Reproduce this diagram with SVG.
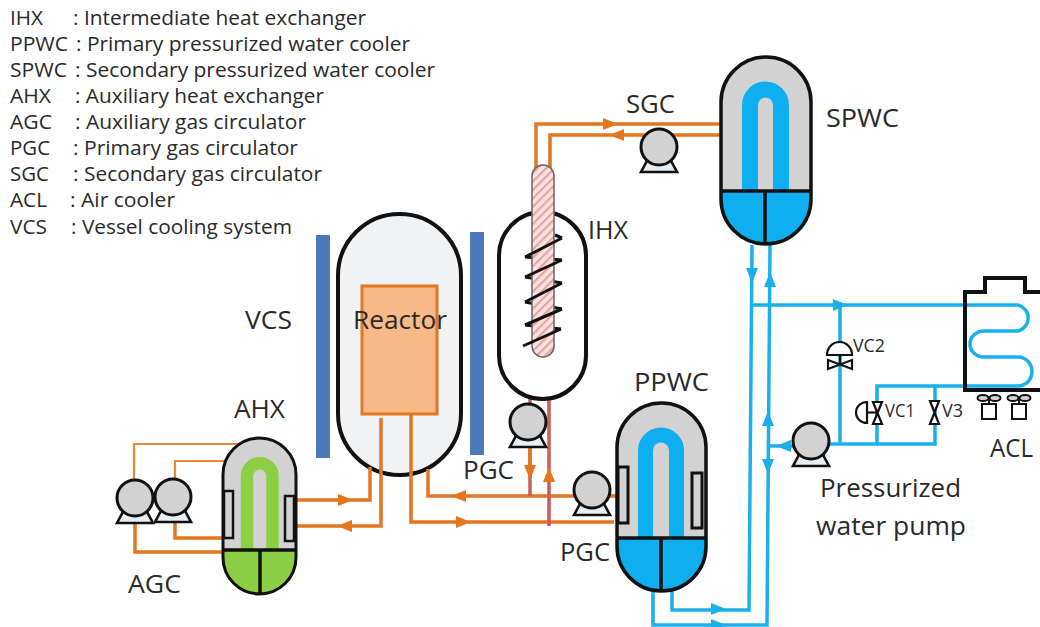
<svg xmlns="http://www.w3.org/2000/svg" width="1040" height="627" viewBox="0 0 1040 627">
<style>
text{font-family:"Open Sans","Noto Sans","Liberation Sans",sans-serif;fill:#2a2a2a}
.leg{font-size:20px}
.lab{font-size:26px}
.sm{font-size:18px}
.o{fill:none;stroke:#e4761f;stroke-width:3.5}
.ot{fill:none;stroke:#e8883a;stroke-width:2.2}
.b{fill:none;stroke:#19b0ec;stroke-width:3.5}
.r{fill:none;stroke:#cd5a5a;stroke-width:3.5}
.k{fill:none;stroke:#111;stroke-width:3.5}
.ah{fill:#e4761f}
.ab{fill:#19b0ec}
.vlv{fill:#fff;stroke:#111;stroke-width:2.2}
</style>
<defs>
<pattern id="hatch" width="6" height="6" patternUnits="userSpaceOnUse" patternTransform="rotate(-45)">
<rect width="6" height="6" fill="#fbe3e0"/><rect width="6" height="2.2" fill="#e9a3a0"/>
</pattern>
<g id="pump"><path d="M-11 12 L-18 25 H18 L11 12Z" fill="#e8eef2" stroke="#111" stroke-width="2.6"/><circle r="18" fill="#d2d2d2" stroke="#111" stroke-width="3"/></g>
<path id="tr" d="M-7 -6 L8 0 L-7 6Z"/>
<g id="fan"><ellipse cx="-6" cy="0" rx="5.5" ry="3" fill="#d2d2d2" stroke="#111" stroke-width="2"/><ellipse cx="6" cy="0" rx="5.5" ry="3" fill="#d2d2d2" stroke="#111" stroke-width="2"/><path d="M0 0V6" stroke="#111" stroke-width="2"/><rect x="-7" y="6" width="14" height="15" fill="#fff" stroke="#111" stroke-width="2"/></g>
</defs>
<g id="legend">
<text class="leg" x="10" y="25" textLength="33" lengthAdjust="spacingAndGlyphs">IHX</text><text class="leg" x="73" y="25" textLength="293" lengthAdjust="spacingAndGlyphs">: Intermediate heat exchanger</text>
<text class="leg" x="10" y="51" textLength="58" lengthAdjust="spacingAndGlyphs">PPWC</text><text class="leg" x="76" y="51" textLength="334" lengthAdjust="spacingAndGlyphs">: Primary pressurized water cooler</text>
<text class="leg" x="10" y="77" textLength="57" lengthAdjust="spacingAndGlyphs">SPWC</text><text class="leg" x="75" y="77" textLength="360" lengthAdjust="spacingAndGlyphs">: Secondary pressurized water cooler</text>
<text class="leg" x="10" y="103" textLength="41" lengthAdjust="spacingAndGlyphs">AHX</text><text class="leg" x="75" y="103" textLength="249" lengthAdjust="spacingAndGlyphs">: Auxiliary heat exchanger</text>
<text class="leg" x="10" y="129" textLength="42" lengthAdjust="spacingAndGlyphs">AGC</text><text class="leg" x="75" y="129" textLength="231" lengthAdjust="spacingAndGlyphs">: Auxiliary gas circulator</text>
<text class="leg" x="10" y="155" textLength="40" lengthAdjust="spacingAndGlyphs">PGC</text><text class="leg" x="73" y="155" textLength="225" lengthAdjust="spacingAndGlyphs">: Primary gas circulator</text>
<text class="leg" x="10" y="181" textLength="39" lengthAdjust="spacingAndGlyphs">SGC</text><text class="leg" x="73" y="181" textLength="249" lengthAdjust="spacingAndGlyphs">: Secondary gas circulator</text>
<text class="leg" x="10" y="207" textLength="37" lengthAdjust="spacingAndGlyphs">ACL</text><text class="leg" x="70" y="207" textLength="105" lengthAdjust="spacingAndGlyphs">: Air cooler</text>
<text class="leg" x="10" y="234" textLength="37" lengthAdjust="spacingAndGlyphs">VCS</text><text class="leg" x="71" y="234" textLength="221" lengthAdjust="spacingAndGlyphs">: Vessel cooling system</text>
</g>
<g id="VCS"><rect x="316" y="235" width="14" height="223" fill="#4a7ab8"/><rect x="470" y="232" width="14" height="223" fill="#4a7ab8"/><text class="lab" x="245" y="329" textLength="47" lengthAdjust="spacingAndGlyphs">VCS</text></g>
<g id="Reactor">
<rect x="338" y="214" width="123" height="261" rx="61.5" fill="#f1f2f4" stroke="#111" stroke-width="4"/>
<rect x="362" y="286" width="75" height="128" fill="#f8b988" stroke="#e4761f" stroke-width="3"/>
<text class="lab" x="353" y="329" textLength="94" lengthAdjust="spacingAndGlyphs">Reactor</text>
</g>
<g id="connectors">
<path class="o" d="M536 170V124H720"/><path class="o" d="M550 170V135H720"/>
<use href="#tr" class="ah" x="610" y="124"/><use href="#tr" class="ah" transform="translate(617 135) rotate(180)"/>
<path class="ot" d="M134 482V444H240"/><path class="ot" d="M175 480V461H228"/>
<path class="o" d="M175 520V538H224"/><path class="o" d="M135 520V552H224"/>
<path class="o" d="M296 500H370V467"/><path class="o" d="M296 526H381V418"/>
<use href="#tr" class="ah" x="345" y="500"/><use href="#tr" class="ah" transform="translate(345 526) rotate(180)"/>
<path class="o" d="M428 469V496H617"/><path class="o" d="M411 414V522H614"/>
<use href="#tr" class="ah" transform="translate(459 496) rotate(180)"/><use href="#tr" class="ah" x="463" y="522"/>
<path class="r" d="M530 396V496"/><path class="r" d="M549 396V526"/>
<path class="o" d="M530 445V478"/>
<use href="#tr" class="ah" transform="translate(530 472) rotate(90)"/><use href="#tr" class="ah" transform="translate(549 475) rotate(-90)"/>
<path class="b" d="M653 590V625H767L770 245"/><path class="b" d="M672 590V610H749L752 245"/>
<use href="#tr" class="ab" x="718" y="609"/><use href="#tr" class="ab" x="718" y="625"/>
<use href="#tr" class="ab" transform="translate(768 419) rotate(-90)"/><use href="#tr" class="ab" transform="translate(768 466) rotate(90)"/>
<use href="#tr" class="ab" transform="translate(752 275) rotate(90)"/><use href="#tr" class="ab" transform="translate(770 280) rotate(-90)"/>
<path class="b" d="M751 305H1018A14 13.5 0 0 1 1018 331H984A14 13 0 0 0 984 357H1018A14 14.5 0 0 1 1018 386H877V444"/>
<path class="b" d="M768 446H795"/><path class="b" d="M825 444H935V386"/><path class="b" d="M840 305V444"/>
<use href="#tr" class="ab" x="840" y="305"/><use href="#tr" class="ab" transform="translate(784 446) rotate(180)"/>
</g>
<g id="IHX">
<rect x="499" y="212" width="87" height="187" rx="43.5" fill="#fff" stroke="#111" stroke-width="4"/>
<path d="M562 238L555 235M525 257L562 260M525 277L562 283M525 302L562 309M525 325L561 329" fill="none" stroke="#111" stroke-width="3"/>
<rect x="532" y="165" width="22" height="192" rx="11" fill="url(#hatch)" stroke="#666" stroke-width="1.5"/>
<path d="M525 257L562 238M525 277L562 260M525 302L562 283M525 325L562 309M523 346L561 329" fill="none" stroke="#111" stroke-width="3"/>
<text class="lab" x="588" y="239" textLength="40" lengthAdjust="spacingAndGlyphs">IHX</text>
</g>
<g id="SPWC">
<rect x="721" y="57" width="90" height="187" rx="45" fill="#d2d2d2"/>
<path d="M721 191H811C811 225 790 244 766 244C742 244 721 225 721 191Z" fill="#0eaeef"/>
<path d="M750 191V105A15.5 15.5 0 0 1 781 105V191" fill="none" stroke="#0eaeef" stroke-width="16"/>
<rect x="721" y="57" width="90" height="187" rx="45" fill="none" stroke="#111" stroke-width="3.5"/>
<path class="k" d="M721 191H811M765 191V244"/>
<text class="lab" x="826" y="127" textLength="73" lengthAdjust="spacingAndGlyphs">SPWC</text>
</g>
<g id="SGC"><use href="#pump" x="659" y="147"/><text class="lab" x="626" y="113" textLength="49" lengthAdjust="spacingAndGlyphs">SGC</text></g>
<g id="PPWC">
<rect x="617" y="403" width="89" height="188" rx="44.5" fill="#d2d2d2"/>
<path d="M617 538H706C706 572 685 591 661 591C637 591 617 572 617 538Z" fill="#0eaeef"/>
<path d="M645.5 538V450.5A15.5 15.5 0 0 1 676.5 450.5V538" fill="none" stroke="#0eaeef" stroke-width="15"/>
<rect x="617" y="403" width="89" height="188" rx="44.5" fill="none" stroke="#111" stroke-width="3.5"/>
<path class="k" d="M617 538H706M661 538V591"/>
<rect x="618" y="467" width="10" height="56" fill="#d2d2d2" stroke="#111" stroke-width="3"/>
<rect x="692" y="473" width="10" height="55" fill="#d2d2d2" stroke="#111" stroke-width="3"/>
<text class="lab" x="634" y="391" textLength="75" lengthAdjust="spacingAndGlyphs">PPWC</text>
</g>
<g id="AHX">
<rect x="223" y="438" width="73" height="156" rx="36.5" fill="#d2d2d2"/>
<path d="M223 550H296C296 578 280 594 260 594C240 594 223 578 223 550Z" fill="#8ccf45"/>
<path d="M247 550V476A12.75 12.75 0 0 1 272.5 476V550" fill="none" stroke="#8ccf45" stroke-width="12.5"/>
<rect x="223" y="438" width="73" height="156" rx="36.5" fill="none" stroke="#111" stroke-width="3"/>
<path class="k" d="M223 550H296M260 550V594" stroke-width="3"/>
<rect x="224" y="491" width="9" height="47" fill="#d2d2d2" stroke="#111" stroke-width="2.5"/>
<rect x="285" y="496" width="9" height="45" fill="#d2d2d2" stroke="#111" stroke-width="2.5"/>
<text class="lab" x="234" y="418" textLength="51" lengthAdjust="spacingAndGlyphs">AHX</text>
</g>
<g id="AGC"><use href="#pump" x="135" y="498"/><use href="#pump" x="173" y="497"/><text class="lab" x="128" y="593" textLength="53" lengthAdjust="spacingAndGlyphs">AGC</text></g>
<g id="PGC1"><use href="#pump" x="528" y="422"/><text class="lab" x="463" y="479" textLength="51" lengthAdjust="spacingAndGlyphs">PGC</text></g>
<g id="PGC2"><use href="#pump" x="592" y="490"/><text class="lab" x="560" y="561" textLength="50" lengthAdjust="spacingAndGlyphs">PGC</text></g>
<g id="Pressurized-water-pump"><use href="#pump" x="811" y="441"/><text class="lab" x="820" y="497" textLength="141" lengthAdjust="spacingAndGlyphs">Pressurized</text><text class="lab" x="816" y="535" textLength="150" lengthAdjust="spacingAndGlyphs">water pump</text></g>
<g id="VC2">
<path d="M827 355A12.5 13 0 0 1 852 355Z" class="vlv" stroke-width="3"/>
<path d="M840 355V364" stroke="#111" stroke-width="2.2"/>
<path d="M828 360L852 369V360L828 369Z" class="vlv"/>
<text class="sm" x="853" y="352" textLength="32" lengthAdjust="spacingAndGlyphs">VC2</text>
</g>
<g id="VC1">
<path d="M867 402A11 10.5 0 0 0 867 423Z" class="vlv"/><path d="M867 412.5H877" stroke="#111" stroke-width="2.2"/>
<path d="M873 402H882L873 424H882Z" class="vlv"/>
<text class="sm" x="885" y="417" textLength="30" lengthAdjust="spacingAndGlyphs">VC1</text>
</g>
<g id="V3">
<path d="M930 401H939L930 424H939Z" class="vlv"/>
<text class="sm" x="942" y="417" textLength="21" lengthAdjust="spacingAndGlyphs">V3</text>
</g>
<g id="ACL">
<path d="M1040 292H1025V278H985V292H965V390H1040" fill="none" stroke="#111" stroke-width="4"/>
<use href="#fan" x="989" y="398"/><use href="#fan" x="1019" y="398"/>
<text class="lab" x="990" y="457" textLength="43" lengthAdjust="spacingAndGlyphs">ACL</text>
</g>
</svg>
